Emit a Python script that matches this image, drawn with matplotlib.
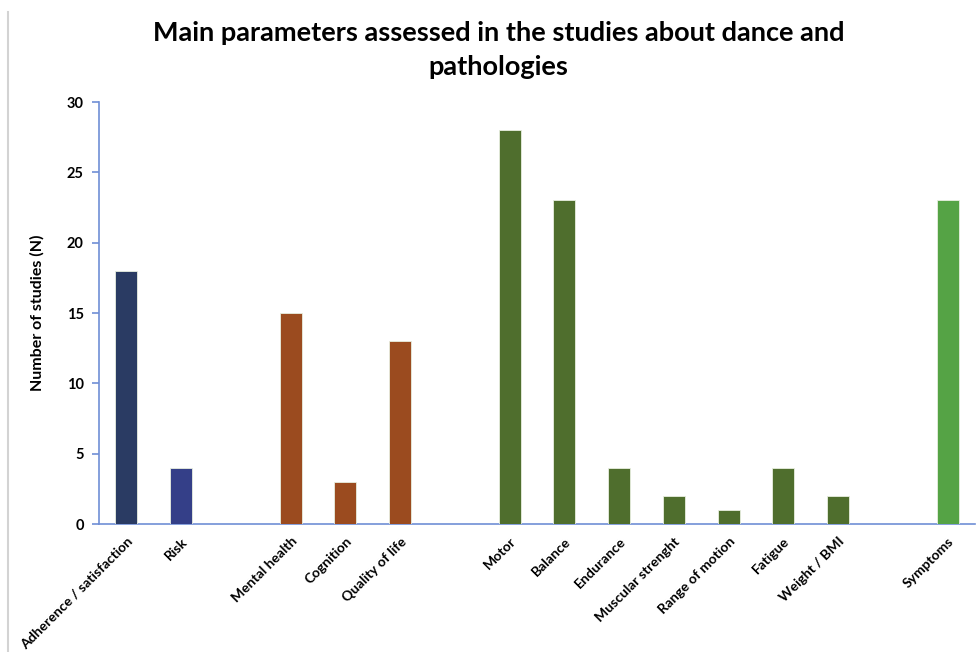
import matplotlib
matplotlib.use('Agg')
import matplotlib.pyplot as plt
from matplotlib.lines import Line2D

# categories with blank slots between the groups ('' = empty slot)
categories = ['Adherence / satisfaction', 'Risk', '',
              'Mental health', 'Cognition', 'Quality of life', '',
              'Motor', 'Balance', 'Endurance', 'Muscular strenght',
              'Range of motion', 'Fatigue', 'Weight / BMI', '',
              'Symptoms']
n_studies = [18, 4, None,
             15, 3, 13, None,
             28, 23, 4, 2, 1, 4, 2, None,
             23]
bar_colors = ['#2a3b63', '#343f88', None,
              '#9b4b1f', '#9b4b1f', '#9b4b1f', None,
              '#4f6e2d', '#4f6e2d', '#4f6e2d', '#4f6e2d', '#4f6e2d', '#4f6e2d', '#4f6e2d', None,
              '#55a345']
y_ticks = [0, 5, 10, 15, 20, 25, 30]

plt.rcParams['font.family'] = ['Lato', 'DejaVu Sans']

fig = plt.figure(figsize=(9.76, 6.52), dpi=100)
ax = fig.add_axes([0.1014, 0.1963, 0.8975, 0.6472])

xs = [i for i, v in enumerate(n_studies) if v is not None]
vals = [v for v in n_studies if v is not None]
cols = [c for c in bar_colors if c is not None]
ax.bar(xs, vals, width=0.4, color=cols, edgecolor='#e8efe0', linewidth=0.6, zorder=3)

ax.set_xlim(-0.5, len(categories) - 0.5)
ax.set_ylim(0, 30)
ax.set_yticks(y_ticks)
ax.set_yticklabels([str(t) for t in y_ticks], fontsize=10.5, fontweight='bold')
ax.set_xticks(xs)
ax.set_xticklabels([categories[i] for i in xs], rotation=45, ha='right',
                   rotation_mode='anchor', fontsize=10, fontweight='bold')
ax.tick_params(axis='x', length=0, pad=8)
ax.tick_params(axis='y', length=5, width=1.2, color='#6f8fd6', pad=6)

axis_blue = '#6f8fd6'
for side in ['top', 'right']:
    ax.spines[side].set_visible(False)
ax.spines['left'].set_color(axis_blue)
ax.spines['bottom'].set_color(axis_blue)
ax.spines['left'].set_linewidth(1.2)
ax.spines['bottom'].set_linewidth(1.2)

ax.set_ylabel('Number of studies (N)', fontsize=11.5, fontweight='bold', labelpad=16)

fig.suptitle('Main parameters assessed in the studies about dance and\npathologies',
             x=0.511, y=0.968, fontsize=19.5, fontweight='bold', linespacing=1.5)

# thin grey border line on the left edge
fig.add_artist(Line2D([0.0085, 0.0085], [0.0, 0.982], color='#d3d3d3', linewidth=1.5,
                      transform=fig.transFigure))

fig.savefig('out.png', dpi=100)
